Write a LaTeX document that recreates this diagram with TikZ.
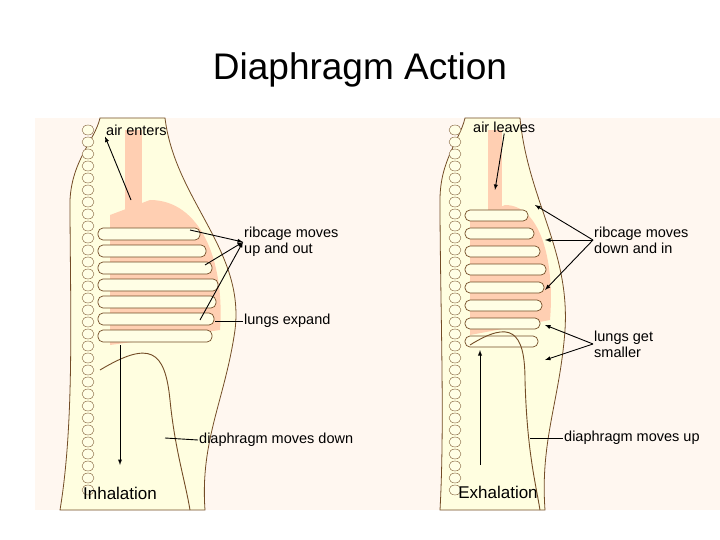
\documentclass[tikz,border=0pt]{standalone}
\usepackage{fontspec}
\setmainfont{Liberation Sans}
\begin{document}
\begin{tikzpicture}[x=1pt,y=-1pt,
  lbl/.style={font=\fontsize{14.5}{16}\selectfont,align=left,anchor=west,inner sep=1pt},
  captxt/.style={font=\fontsize{17}{19}\selectfont,inner sep=1pt},
  arr/.style={-latex,line width=0.9pt},
  body/.style={fill=orange!8!yellow!12,draw=brown!60!black,line width=0.8pt},
  rib/.style={fill=orange!6!yellow!10,draw=brown!60!black,line width=0.7pt,rounded corners=5pt},
  lung/.style={fill=red!25!orange!30,draw=none}]
\useasboundingbox (0,0) rectangle (720,540);
\fill[white] (0,0) rectangle (720,540);
\node[font=\fontsize{37}{40}\selectfont] (title) at (360,70) {Diaphragm Action};
\fill[red!4!orange!6] (35,118) rectangle (720,510);
% ---------- left figure ----------
\path[body] (100,118) -- (165,118) .. controls (175,200) and (245,250) .. (235,330)
  .. controls (225,400) and (200,440) .. (205,510) -- (60,510)
  .. controls (75,420) and (70,300) .. (70,200) .. controls (72,160) and (95,140) .. (100,118) -- cycle;
\foreach \y in {130,142,...,500} \draw[fill=orange!6!yellow!10,draw=brown!60!black] (88,\y) ellipse (6 and 5);
\path[lung] (150,200) .. controls (200,200) and (225,260) .. (220,330) -- (110,345) -- (110,215) -- cycle;
\path[lung] (125,130) rectangle (142,215);
\foreach \i in {0,...,6} {\pgfmathsetmacro\xr{212+\i*2-abs(\i-3)*4}\draw[rib] (98,228+\i*17) rectangle ({\xr},240+\i*17);}
\draw[brown!60!black,line width=0.9pt] (100,370) .. controls (150,340) and (165,350) .. (170,400) .. controls (175,450) and (185,480) .. (190,510);
\node[lbl] (ae) at (105,130) {air enters};
\node[lbl] (rl) at (243,242) {ribcage moves\\up and out};
\node[lbl] (le) at (243,321) {lungs expand};
\node[lbl] (dd) at (198,440) {diaphragm moves down};
\node[captxt] (inh) at (120,493) {Inhalation};
\coordinate (t1) at (131,200);
\draw[arr] (t1) -- (ae.south west);
\coordinate (r1) at (190,230); \coordinate (r2) at (205,265); \coordinate (r3) at (200,320);
\draw[arr] (r1) -- (rl.west); \draw[arr] (r2) -- (rl.west); \draw[arr] (r3) -- (rl.west);
\draw[line width=0.9pt] (215,321) -- (le.west);
\coordinate (d1) at (120,345); \coordinate (d2) at (120,465);
\draw[arr] (d1) -- (d2);
\draw[line width=0.9pt] (165,438) -- (dd.west);
% ---------- right figure ----------
\path[body] (465,118) -- (520,118) .. controls (528,200) and (570,250) .. (565,330)
  .. controls (560,400) and (540,440) .. (545,510) -- (440,510)
  .. controls (445,420) and (440,300) .. (440,200) .. controls (440,160) and (460,140) .. (465,118) -- cycle;
\foreach \y in {130,142,...,500} \draw[fill=orange!6!yellow!10,draw=brown!60!black] (455,\y) ellipse (6 and 5);
\path[lung] (505,205) .. controls (540,205) and (555,260) .. (550,320) -- (470,335) -- (470,220) -- cycle;
\path[lung] (488,130) rectangle (502,215);
\foreach \i in {0,...,7} {\pgfmathsetmacro\xr{540+\i*2-abs(\i-3)*4}\draw[rib] (465,210+\i*18) rectangle ({\xr},221+\i*18);}
\draw[brown!60!black,line width=0.9pt] (470,345) .. controls (510,320) and (525,330) .. (525,380) .. controls (527,450) and (535,480) .. (540,510);
\node[lbl] (al) at (472,127) {air leaves};
\node[lbl] (rd) at (593,240) {ribcage moves\\down and in};
\node[lbl] (ls) at (593,344) {lungs get\\smaller};
\node[lbl] (du) at (563,438) {diaphragm moves up};
\node[captxt] (exh) at (498,492) {Exhalation};
\coordinate (t2) at (495,190);
\draw[arr] (al.south) -- (t2);
\coordinate (s1) at (535,205); \coordinate (s2) at (545,240); \coordinate (s3) at (545,290);
\draw[arr] (rd.west) -- (s1); \draw[arr] (rd.west) -- (s2); \draw[arr] (rd.west) -- (s3);
\coordinate (g1) at (545,325); \coordinate (g2) at (545,360);
\draw[arr] (ls.west) -- (g1); \draw[arr] (ls.west) -- (g2);
\coordinate (u1) at (480,465); \coordinate (u2) at (480,350);
\draw[arr] (u1) -- (u2);
\draw[line width=0.9pt] (530,438) -- (du.west);
\end{tikzpicture}
\end{document}
